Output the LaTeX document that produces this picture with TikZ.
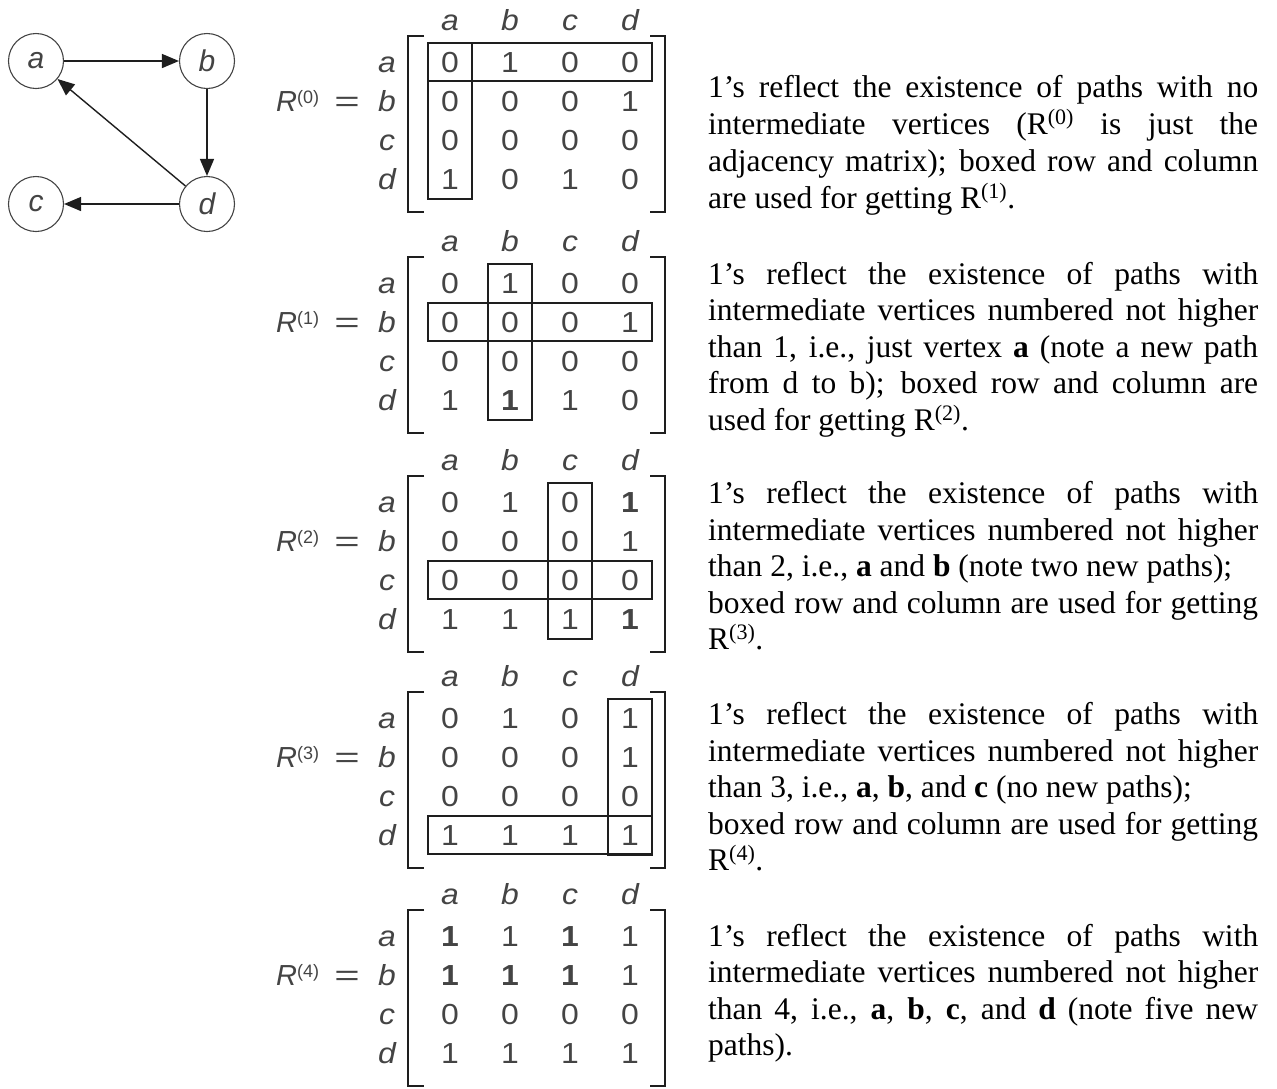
\documentclass[tikz,border=0pt]{standalone}
\usepackage{fontspec}
\usepackage{graphicx}
\setmainfont{Liberation Serif}
\newfontfamily\msans{Liberation Sans}
\usetikzlibrary{arrows.meta}
\definecolor{ink}{HTML}{444444}
\definecolor{rule}{HTML}{1E1E1E}

% one justified line of the commentary
\newcommand\jline[1]{\makebox[550pt][s]{#1}}
% the matrix lettering is set slightly wide
\newcommand\wide[1]{\scalebox{1.1}[1]{#1}}

% a labelled 4x4 matrix: #1 name, #2 y of first row, #3 index, #4 rows
\newcommand\matblock[4]{%
  \node[lab, anchor=base west] (#1-R) at (276,#2+49)
    {\textit{R}\raisebox{8pt}{\upshape\fontsize{18}{20}\selectfont(#3)}};
  \node[ent] (#1-eq) at (347,#2+49) {\scalebox{1.5}[1]{=}};
  \foreach \h [count=\j from 0] in {a,b,c,d}
    \node[lab] (#1-h\j) at (450+60*\j,#2-32) {\wide{\h}};
  \foreach \h [count=\i from 0] in {a,b,c,d}
    \node[lab] (#1-r\i) at (387,#2+10+39*\i) {\wide{\h}};
  \foreach \row [count=\i from 0] in {#4}
    \foreach \e [count=\j from 0] in \row
      \node[ent] (#1-\i-\j) at (450+60*\j,#2+10+39*\i) {\wide{\e}};
  \draw[brk] (424,#2-26) -- (408,#2-26) -- (408,#2+150) -- (424,#2+150);
  \draw[brk] (650,#2-26) -- (665,#2-26) -- (665,#2+150) -- (650,#2+150);
}
% boxed row #2 and boxed column #3 of a matrix whose first row is at #1
\newcommand\cross[3]{%
  \draw[hilite] (428,#1+39*#2-19) rectangle (652,#1+39*#2+19);
  \draw[hilite] (428+60*#3,#1-19) rectangle (472+60*#3,#1+137);
}
\newcommand\bone{\textbf{1}}

\begin{document}
\begin{tikzpicture}[x=1pt,y=-1pt,
  vtx/.style={circle, draw=ink, line width=1.1pt, minimum size=55pt, inner sep=0pt,
    font=\msans\itshape\fontsize{30}{34}\selectfont, text=ink},
  edge/.style={line width=1.4pt, draw=rule, -{Triangle[length=17pt,width=14pt]}},
  ent/.style={anchor=base, inner sep=0pt, font=\msans\fontsize{29}{33}\selectfont, text=ink},
  lab/.style={anchor=base, inner sep=0pt, font=\msans\itshape\fontsize{29}{33}\selectfont, text=ink},
  hilite/.style={draw=rule, line width=1.3pt},
  brk/.style={draw=rule, line width=1.6pt},
  txt/.style={anchor=base west, inner sep=0pt, font=\fontsize{31.5}{37}\selectfont},
]
\useasboundingbox (0,0) rectangle (1277,1088);

% the digraph
\node[vtx] (a) at (36,61) {a};
\node[vtx] (b) at (207,61) {b};
\node[vtx] (c) at (36,204) {c};
\node[vtx] (d) at (207,204) {d};
\draw[edge] (a) -- (b);
\draw[edge] (b) -- (d);
\draw[edge] (d) -- (a);
\draw[edge] (d) -- (c);

% the five matrices of Warshall's algorithm
\matblock{m0}{62}{0}{{0,1,0,0},{0,0,0,1},{0,0,0,0},{1,0,1,0}}
\cross{62}{0}{0}
\matblock{m1}{283}{1}{{0,1,0,0},{0,0,0,1},{0,0,0,0},{1,\bone,1,0}}
\cross{283}{1}{1}
\matblock{m2}{502}{2}{{0,1,0,\bone},{0,0,0,1},{0,0,0,0},{1,1,1,\bone}}
\cross{502}{2}{2}
\matblock{m3}{718}{3}{{0,1,0,1},{0,0,0,1},{0,0,0,0},{1,1,1,1}}
\cross{718}{3}{3}
\matblock{m4}{936}{4}{{\bone,1,\bone,1},{\bone,\bone,\bone,1},{0,0,0,0},{1,1,1,1}}

% commentary
\node[txt] (p0a) at (708,97)  {\jline{1’s reflect the existence of paths with no}};
\node[txt] (p0b) at (708,134) {\jline{intermediate vertices (R\textsuperscript{(0)} is just the}};
\node[txt] (p0c) at (708,171) {\jline{adjacency matrix); boxed row and column}};
\node[txt] (p0d) at (708,208) {are used for getting R\textsuperscript{(1)}.};

\node[txt] (p1a) at (708,284) {\jline{1’s reflect the existence of paths with}};
\node[txt] (p1b) at (708,320) {\jline{intermediate vertices numbered not higher}};
\node[txt] (p1c) at (708,357) {\jline{than 1, i.e., just vertex \textbf{a} (note a new path}};
\node[txt] (p1d) at (708,393) {\jline{from d to b); boxed row and column are}};
\node[txt] (p1e) at (708,430) {used for getting R\textsuperscript{(2)}.};

\node[txt] (p2a) at (708,503) {\jline{1’s reflect the existence of paths with}};
\node[txt] (p2b) at (708,540) {\jline{intermediate vertices numbered not higher}};
\node[txt] (p2c) at (708,576) {than 2, i.e., \textbf{a} and \textbf{b} (note two new paths);};
\node[txt] (p2d) at (708,613) {\jline{boxed row and column are used for getting}};
\node[txt] (p2e) at (708,649) {R\textsuperscript{(3)}.};

\node[txt] (p3a) at (708,724) {\jline{1’s reflect the existence of paths with}};
\node[txt] (p3b) at (708,761) {\jline{intermediate vertices numbered not higher}};
\node[txt] (p3c) at (708,797) {than 3, i.e., \textbf{a}, \textbf{b}, and \textbf{c} (no new paths);};
\node[txt] (p3d) at (708,834) {\jline{boxed row and column are used for getting}};
\node[txt] (p3e) at (708,870) {R\textsuperscript{(4)}.};

\node[txt] (p4a) at (708,946) {\jline{1’s reflect the existence of paths with}};
\node[txt] (p4b) at (708,982) {\jline{intermediate vertices numbered not higher}};
\node[txt] (p4c) at (708,1019) {\jline{than 4, i.e., \textbf{a}, \textbf{b}, \textbf{c}, and \textbf{d} (note five new}};
\node[txt] (p4d) at (708,1055) {paths).};
\end{tikzpicture}
\end{document}
